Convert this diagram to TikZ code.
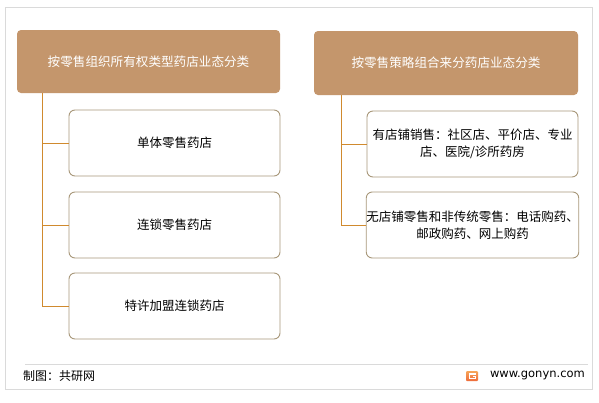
\documentclass[tikz,border=0pt]{standalone}
\usepackage{fontspec}
\setmainfont{Noto Sans CJK SC}
\newfontfamily\latinsans{DejaVu Sans}
\definecolor{headfill}{HTML}{C4966C}
\definecolor{boxline}{HTML}{A8987A}
\definecolor{connc}{HTML}{D08A2E}
\definecolor{framec}{HTML}{DADADA}
\definecolor{logoa}{HTML}{F7A65A}
\definecolor{logob}{HTML}{EE6B3A}
\begin{document}
\begin{tikzpicture}[x=1pt,y=-1pt,
  headbox/.style={fill=headfill, rounded corners=4pt, text=white, inner sep=0pt,
    font=\fontsize{12.6}{15}\selectfont},
  childbox/.style={draw=boxline, line width=0.9pt, fill=white, rounded corners=6pt,
    minimum width=211pt, minimum height=66pt, inner sep=0pt, align=center,
    font=\fontsize{12.5}{17}\selectfont},
  conn/.style={draw=connc, line width=1pt}]
\useasboundingbox (0,0) rectangle (599,402);
\fill[white] (0,0) rectangle (599,402);
\draw[framec, line width=1pt] (5,7) rectangle (592,389);
% headers
\node[headbox, minimum width=263pt, minimum height=63pt] (h1) at (148.5,61.5) {按零售组织所有权类型药店业态分类};
\node[headbox, minimum width=264pt, minimum height=64pt] (h2) at (446,63) {按零售策略组合来分药店业态分类};
% left children
\node[childbox] (l1) at (174.5,143) {单体零售药店};
\node[childbox] (l2) at (174.5,225) {连锁零售药店};
\node[childbox] (l3) at (174.5,306) {特许加盟连锁药店};
% right children
\node[childbox] (r1) at (472.5,144) {有店铺销售：社区店、平价店、专业\\店、医院/诊所药房};
\node[childbox] (r2) at (472.5,225) {无店铺零售和非传统零售：电话购药、\\邮政购药、网上购药};
% connectors
\coordinate (lt) at (42,93);
\coordinate (rt) at (341,95);
\draw[conn] (lt) |- (l3.west);
\draw[conn] (lt |- l1.west) -- (l1.west);
\draw[conn] (lt |- l2.west) -- (l2.west);
\draw[conn] (rt) |- (r2.west);
\draw[conn] (rt |- r1.west) -- (r1.west);
% footer
\coordinate (sepl) at (25,364);
\coordinate (sepr) at (588,364);
\draw[framec, line width=0.8pt] (sepl) -- (sepr);
\node[anchor=west, inner sep=0pt, font=\fontsize{12}{14}\selectfont] (credit) at (23,376) {制图：共研网};
\node[anchor=east, inner sep=0pt, font=\latinsans\fontsize{11.5}{14}\selectfont] (url) at (585,375) {www.gonyn.com};
\node[minimum width=12pt, minimum height=10pt, inner sep=0pt, rounded corners=1pt, top color=logoa, bottom color=logob] (logo) at (472,376) {};
\draw[white, line width=1.2pt] ([shift={(3.5,-2)}]logo.center) -- ([shift={(-2.5,-2)}]logo.center) -- ([shift={(-2.5,2.5)}]logo.center) -- ([shift={(3.5,2.5)}]logo.center) -- ([shift={(3.5,0.5)}]logo.center) -- ([shift={(0.5,0.5)}]logo.center);
\end{tikzpicture}
\end{document}
